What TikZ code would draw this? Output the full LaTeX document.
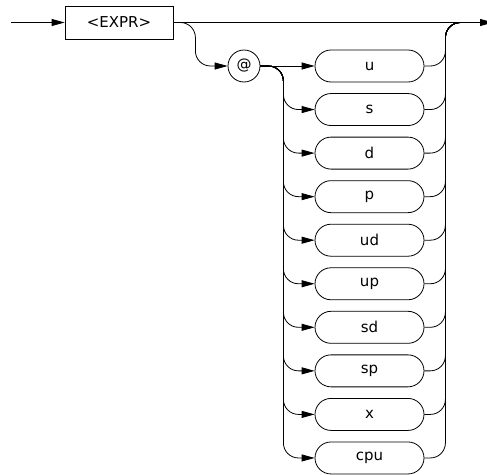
\documentclass[tikz,border=0pt]{standalone}
\usepackage{fontspec}
\setmainfont{DejaVu Sans}
\usetikzlibrary{
	arrows.meta,
	shapes.misc,
	positioning
}

\begin{document}
\begin{tikzpicture}[x=1pt, y=-1pt, line width=0.8pt,
		font=\fontsize{15}{17}\selectfont,
		flow/.style={-{Triangle[length=13pt,width=7pt]}},
		link/.style={rounded corners=15pt},
		sqbox/.style={draw, minimum width=108pt, minimum height=33pt, inner sep=0pt},
		rndbox/.style={draw, rounded rectangle, minimum width=109pt, minimum height=32pt, inner sep=0pt},
		litbox/.style={draw, circle, minimum size=32pt, inner sep=0pt, font=\fontsize{15}{17}\selectfont}]
		\useasboundingbox (0,0) rectangle (487,474);
		\coordinate (start) at (11,22.5);
		\coordinate (join) at (470,22.5);
		\coordinate (out) at (493,22.5);
		\node[sqbox] (expr) at (119,22.5) {<EXPR>};
		\node[litbox] (atsign) at (244,66) {@};
		\foreach \n [count=\i from 0] in {u,s,d,p,ud,up,sd,sp,x,cpu}
		\node[rndbox] (opt\n) at (369.5,66+43.55*\i) {\n};
		\draw[flow] (start) -- (expr.west);
		\draw[flow] (expr.east) -- (out);
		\draw[flow, link] (expr.east) -- ++(22,0) |- (atsign.west);
		\draw[flow] (atsign.east) -- (optu.west);
		\foreach \n in {s,d,p,ud,up,sd,sp,x,cpu}
		\draw[flow, link] (atsign.east) -- ++(23,0) |- (opt\n.west);
		\foreach \n in {u,s,d,p,ud,up,sd,sp,x,cpu}
		\draw[link] (opt\n.east) -- ++(21,0) |- (join);
	\end{tikzpicture}
\end{document}
